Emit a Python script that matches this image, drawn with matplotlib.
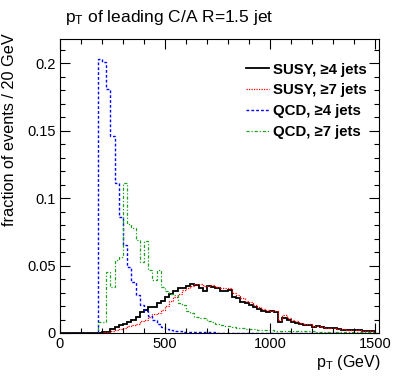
import matplotlib
matplotlib.use("Agg")
import matplotlib.pyplot as plt
import numpy as np
from matplotlib.ticker import MultipleLocator

plt.rcParams['font.family'] = ['Liberation Sans', 'DejaVu Sans']
plt.rcParams['mathtext.fontset'] = 'custom'
plt.rcParams['mathtext.rm'] = 'Liberation Sans'
plt.rcParams['mathtext.it'] = 'Liberation Sans'

bin_width = 20
x_max = 1500

# SUSY >=4 jets, bins starting at 200 GeV
susy4_start = 200
susy4 = [0.001, 0.001, 0.0027, 0.0047, 0.006, 0.0067, 0.0084, 0.0096, 0.012, 0.0158,
         0.017, 0.019, 0.019, 0.022, 0.0237, 0.0269, 0.029, 0.0313, 0.033, 0.033,
         0.0348, 0.0363, 0.0356, 0.033, 0.031, 0.0345, 0.034, 0.033, 0.0313, 0.0313,
         0.032, 0.0269, 0.0257, 0.0232, 0.022, 0.021, 0.0195, 0.018, 0.0165, 0.0158,
         0.016, 0.0158, 0.0084, 0.011, 0.0094, 0.0084, 0.0072, 0.0064, 0.006, 0.006,
         0.0047, 0.0049, 0.0042, 0.0037, 0.0037, 0.0037, 0.0033, 0.0022, 0.0022, 0.0022,
         0.002, 0.002, 0.0015, 0.0015, 0.0016]

# SUSY >=7 jets, bins starting at 200 GeV
susy7_start = 200
susy7 = [0.0005, 0.001, 0.0015, 0.002, 0.003, 0.004, 0.005, 0.006, 0.007, 0.009,
         0.010, 0.012, 0.014, 0.015, 0.017, 0.020, 0.024, 0.027, 0.029, 0.032,
         0.033, 0.035, 0.036, 0.0365, 0.0345, 0.035, 0.0355, 0.034, 0.033, 0.0335,
         0.033, 0.030, 0.028, 0.026, 0.024, 0.023, 0.021, 0.019, 0.018, 0.017,
         0.0165, 0.016, 0.0095, 0.013, 0.011, 0.010, 0.009, 0.0075, 0.007, 0.007,
         0.0055, 0.005, 0.0045, 0.004, 0.004, 0.0035, 0.003, 0.003, 0.0025, 0.0025,
         0.002, 0.002, 0.0018, 0.0015, 0.0015]

# QCD >=4 jets, bins starting at 180 GeV
qcd4_start = 180
qcd4 = [0.2035, 0.201, 0.181, 0.146, 0.111, 0.086, 0.065, 0.049, 0.038, 0.028,
        0.021, 0.016, 0.0126, 0.0096, 0.0067, 0.0047, 0.0027, 0.002, 0.0015, 0.0012,
        0.001, 0.0008, 0.0007, 0.0006, 0.0005, 0.0005, 0.0004, 0.0004, 0.0003, 0.0003,
        0.0003, 0.0002, 0.0002, 0.0002, 0.0002, 0.0001, 0.0001, 0.0001, 0.0001, 0.0001,
        0.0001, 0.0001, 0.0001, 0.0001, 0.0001, 0.0001, 0.0001, 0.0001, 0.0001, 0.0001,
        0.0001, 0.0001, 0.0001, 0.0001, 0.0001, 0.0001, 0.0001, 0.0001, 0.0001, 0.0001,
        0.0001, 0.0001, 0.0001, 0.0001, 0.0001, 0.0001]

# QCD >=7 jets, bins starting at 180 GeV
qcd7_start = 180
qcd7 = [0.0084, 0.0084, 0.045, 0.034, 0.054, 0.056, 0.111, 0.081, 0.078, 0.069,
        0.053, 0.068, 0.047, 0.039, 0.047, 0.034, 0.031, 0.029, 0.028, 0.022,
        0.021, 0.016, 0.015, 0.012, 0.011, 0.011, 0.009, 0.008, 0.007, 0.006,
        0.0055, 0.005, 0.0047, 0.004, 0.0035, 0.0032, 0.003, 0.0028, 0.0025, 0.0022,
        0.002, 0.002, 0.0018, 0.0018, 0.0016, 0.0015, 0.0015, 0.0014, 0.0013, 0.0013,
        0.0012, 0.0012, 0.0011, 0.0011, 0.001, 0.001, 0.001, 0.001, 0.0009, 0.0009,
        0.0009, 0.0008, 0.0008, 0.0008, 0.0008, 0.0008]

labels = ["SUSY, \u22654 jets", "SUSY, \u22657 jets", "QCD, \u22654 jets", "QCD, \u22657 jets"]
title = r"$\mathrm{p_{T}}$ of leading C/A R=1.5 jet"
xlabel = r"$\mathrm{p_{T}}$ (GeV)"
ylabel = "fraction of events / 20 GeV"


def full(vals, start):
    nlead = start // bin_width
    arr = [0.0] * nlead + list(vals)
    nb = x_max // bin_width
    arr = (arr + [0.0] * nb)[:nb]
    return np.array(arr)


edges = np.arange(0, x_max + bin_width, bin_width)

fig = plt.figure(figsize=(3.99, 3.83), dpi=100)
ax = fig.add_axes([60 / 399, 1 - 333 / 383, 319 / 399, 294 / 383])

ax.stairs(full(susy4, susy4_start), edges, color='black', lw=1.3, ls='-', label=labels[0])
ax.stairs(full(susy7, susy7_start), edges, color='#ff0000', lw=0.9, ls=(0, (1, 1)), label=labels[1])
ax.stairs(full(qcd4, qcd4_start), edges, color='#0000ff', lw=1.0, ls=(0, (2, 1.5)), label=labels[2])
ax.stairs(full(qcd7, qcd7_start), edges, color='#20a020', lw=0.9, ls=(0, (2.5, 1.5, 1, 1.5)), label=labels[3])

ax.set_xlim(0, 1520)
ax.set_ylim(0, 0.218)

ax.xaxis.set_minor_locator(MultipleLocator(100))
ax.yaxis.set_minor_locator(MultipleLocator(0.01))
ax.set_xticks([0, 500, 1000, 1500])
ax.set_xticklabels(["0", "500", "1000", "1500"])
ax.set_yticks([0, 0.05, 0.1, 0.15, 0.2])
ax.set_yticklabels(["0", "0.05", "0.1", "0.15", "0.2"])
ax.tick_params(which='both', direction='in', top=True, right=True, labelsize=10.5, width=0.8)
ax.tick_params(which='major', length=7, pad=3)
ax.tick_params(which='minor', length=3.5)
for s in ax.spines.values():
    s.set_linewidth(0.8)

fig.text(65 / 399, 1 - 22 / 383, title, fontsize=12.5, ha='left', va='baseline')
fig.text(380 / 399, 1 - 367 / 383, xlabel, fontsize=11.5, ha='right', va='baseline')
fig.text(10 / 399, 1 - 33 / 383, ylabel, fontsize=11.7, ha='center', va='top', rotation=90)

leg = ax.legend(loc='upper right', bbox_to_anchor=(0.99, 0.95), frameon=False,
                prop={'weight': 'bold', 'size': 10.8}, handlelength=1.5, handletextpad=0.3,
                labelspacing=0.45, borderaxespad=0.2)

fig.savefig("out.png", dpi=100)
